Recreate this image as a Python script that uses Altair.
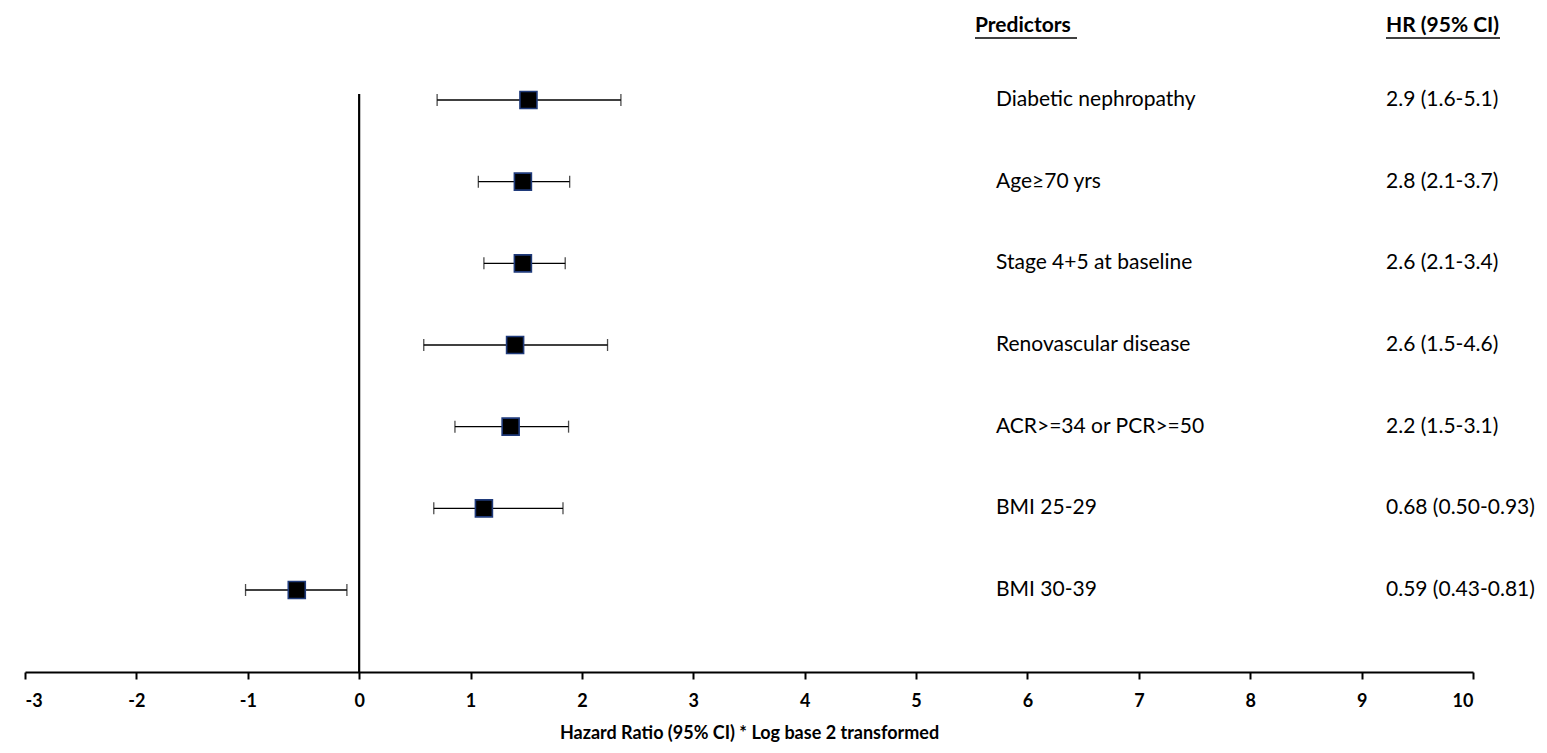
import altair as alt
import pandas as pd

predictors = ["Diabetic nephropathy", "Age≥70 yrs", "Stage 4+5 at baseline",
              "Renovascular disease", "ACR>=34 or PCR>=50", "BMI 25-29", "BMI 30-39"]
hr_text = ["2.9 (1.6-5.1)", "2.8 (2.1-3.7)", "2.6 (2.1-3.4)", "2.6 (1.5-4.6)",
           "2.2 (1.5-3.1)", "0.68 (0.50-0.93)", "0.59 (0.43-0.81)"]
estimate = [1.52, 1.47, 1.47, 1.40, 1.36, 1.12, -0.56]
lower = [0.70, 1.07, 1.12, 0.58, 0.86, 0.67, -1.02]
upper = [2.35, 1.89, 1.85, 2.23, 1.88, 1.83, -0.11]
x_ticks = list(range(-3, 11))

df = pd.DataFrame({"predictor": predictors, "hr": hr_text, "est": estimate,
                   "lo": lower, "hi": upper})

FONT = "Lato"
xscale = alt.Scale(domain=[-3, 10], nice=False, zero=False)
yenc = alt.Y("predictor:N", sort=predictors, axis=None,
             scale=alt.Scale(type="point", range=[87, 577], padding=0))

base = alt.Chart(df)

bars = base.mark_rule(color="black", strokeWidth=1.3).encode(
    x=alt.X("lo:Q", scale=xscale,
            axis=alt.Axis(values=x_ticks, grid=False, labelExpr="datum.value + ''",
                          title="Hazard Ratio  (95% CI) * Log base 2 transformed")),
    x2="hi:Q", y=yenc)
cap_lo = base.mark_tick(color="black", thickness=1.3, size=12).encode(x="lo:Q", y=yenc)
cap_hi = base.mark_tick(color="black", thickness=1.3, size=12).encode(x="hi:Q", y=yenc)
pts = base.mark_square(size=289, opacity=1, fill="black", stroke="#1f3a7a",
                       strokeWidth=1.6).encode(x="est:Q", y=yenc)

zero_line = alt.Chart(pd.DataFrame({"z": [0]})).mark_rule(
    color="black", strokeWidth=2.2).encode(
    x=alt.X("z:Q", scale=xscale), y=alt.value(81), y2=alt.value(659))

lab = base.mark_text(align="left", baseline="middle", font=FONT, fontSize=21,
                     color="black").encode(x=alt.value(971), y=yenc, text="predictor:N")
hrl = base.mark_text(align="left", baseline="middle", font=FONT, fontSize=21,
                     color="black").encode(x=alt.value(1361), y=yenc, text="hr:N")

headers = pd.DataFrame({"t": ["Predictors", "HR (95% CI)"]})
head1 = alt.Chart(headers).transform_filter(alt.datum.t == "Predictors").mark_text(
    align="left", baseline="middle", font=FONT, fontSize=21, fontWeight="bold",
    color="black").encode(x=alt.value(950), y=alt.value(13), text="t:N")
head2 = alt.Chart(headers).transform_filter(alt.datum.t == "HR (95% CI)").mark_text(
    align="left", baseline="middle", font=FONT, fontSize=21, fontWeight="bold",
    color="black").encode(x=alt.value(1361), y=alt.value(13), text="t:N")
ul1 = alt.Chart(headers).transform_filter(alt.datum.t == "Predictors").mark_rule(
    color="black", strokeWidth=1.6).encode(x=alt.value(950), x2=alt.value(1052), y=alt.value(25))
ul2 = alt.Chart(headers).transform_filter(alt.datum.t == "HR (95% CI)").mark_rule(
    color="black", strokeWidth=1.6).encode(x=alt.value(1361), x2=alt.value(1475), y=alt.value(25))

chart = alt.layer(zero_line, bars, cap_lo, cap_hi, pts, lab, hrl,
                  head1, head2, ul1, ul2).properties(
    width=1448, height=659,
    autosize=alt.AutoSizeParams(type="none"),
    padding={"left": 17, "top": 5, "right": 62, "bottom": 73},
).configure_view(stroke=None).configure_axis(
    domainColor="black", domainWidth=2, tickColor="black", tickWidth=2, tickSize=7,
    labelFont=FONT, labelFontSize=18, labelFontWeight="bold", labelColor="black",
    labelPadding=13, titleFont=FONT, titleFontSize=18, titleFontWeight="bold",
    titleColor="black", titlePadding=14)

chart.save("out.html", embed_options={"renderer": "svg", "actions": False})
